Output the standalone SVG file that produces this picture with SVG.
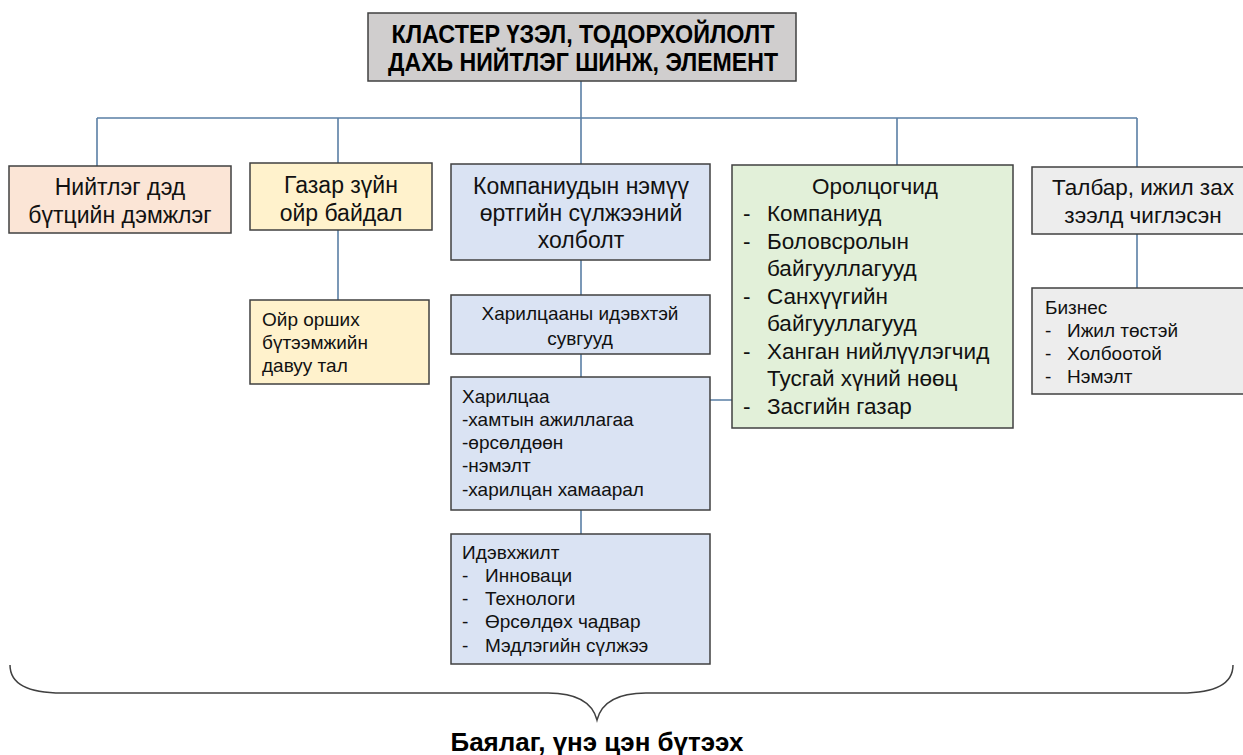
<svg xmlns="http://www.w3.org/2000/svg" width="1243" height="755" viewBox="0 0 1243 755">
<style>
.box{stroke:#404040;stroke-width:1.5}
.t{font-family:"Liberation Sans",Arial,sans-serif;font-size:23px;fill:#111}
.g{font-family:"Liberation Sans",Arial,sans-serif;font-size:22.5px;fill:#111}
.s{font-family:"Liberation Sans",Arial,sans-serif;font-size:19px;fill:#111}
.b{font-family:"Liberation Sans",Arial,sans-serif;font-weight:bold;font-size:25px;fill:#000}
.c{text-anchor:middle}
.con{stroke:#5A7FA5;stroke-width:1.6;fill:none}
</style>
<rect width="1243" height="755" fill="#fff"/>
<g id="connectors">
<path class="con" d="M581,81 V118 M97,118 H1137 M97,118 V166 M338,118 V163 M581,118 V164 M897,118 V165 M1137,118 V167"/>
<path class="con" d="M338,230 V300 M581,260 V295 M581,354 V377 M581,510 V534 M710,400 H732 M1137,234 V288"/>
</g>
<g id="title">
<rect class="box" x="368" y="13" width="428" height="68" fill="#D0CECE"/>
<text class="b c" x="583" y="43" textLength="383" lengthAdjust="spacingAndGlyphs">КЛАСТЕР ҮЗЭЛ, ТОДОРХОЙЛОЛТ</text>
<text class="b c" x="583" y="71" textLength="390" lengthAdjust="spacingAndGlyphs">ДАХЬ НИЙТЛЭГ ШИНЖ, ЭЛЕМЕНТ</text>
</g>
<g id="infra">
<rect class="box" x="9" y="166" width="222" height="67" fill="#FBE5D6"/>
<text class="t c" x="120" y="195">Нийтлэг дэд</text>
<text class="t c" x="120" y="223">бүтцийн дэмжлэг</text>
</g>
<g id="geo">
<rect class="box" x="250" y="163" width="182" height="67" fill="#FFF2CC"/>
<text class="t c" x="341" y="193">Газар зүйн</text>
<text class="t c" x="341" y="221">ойр байдал</text>
</g>
<g id="geo-adv">
<rect class="box" x="250" y="300" width="179" height="84" fill="#FFF2CC"/>
<text class="s" x="262" y="326">Ойр орших</text>
<text class="s" x="262" y="349">бүтээмжийн</text>
<text class="s" x="262" y="372">давуу тал</text>
</g>
<g id="value-chain">
<rect class="box" x="451" y="164" width="259" height="96" fill="#DAE3F3"/>
<text class="t c" x="581" y="194">Компаниудын нэмүү</text>
<text class="t c" x="581" y="221">өртгийн сүлжээний</text>
<text class="t c" x="581" y="248">холболт</text>
</g>
<g id="channels">
<rect class="box" x="451" y="295" width="259" height="59" fill="#DAE3F3"/>
<text class="s c" x="580" y="320">Харилцааны идэвхтэй</text>
<text class="s c" x="580" y="345">сувгууд</text>
</g>
<g id="relations">
<rect class="box" x="451" y="377" width="259" height="133" fill="#DAE3F3"/>
<text class="s" x="462" y="403">Харилцаа</text>
<text class="s" x="462" y="426">-хамтын ажиллагаа</text>
<text class="s" x="462" y="449">-өрсөлдөөн</text>
<text class="s" x="462" y="472">-нэмэлт</text>
<text class="s" x="462" y="496">-харилцан хамаарал</text>
</g>
<g id="activity">
<rect class="box" x="451" y="534" width="259" height="130" fill="#DAE3F3"/>
<text class="s" x="462" y="559">Идэвхжилт</text>
<text class="s" x="462" y="582">-</text><text class="s" x="485" y="582">Инноваци</text>
<text class="s" x="462" y="605">-</text><text class="s" x="485" y="605">Технологи</text>
<text class="s" x="462" y="628">-</text><text class="s" x="485" y="628">Өрсөлдөх чадвар</text>
<text class="s" x="462" y="652">-</text><text class="s" x="485" y="652">Мэдлэгийн сүлжээ</text>
</g>
<g id="participants">
<rect class="box" x="732" y="165" width="281" height="263" fill="#E2F0D9"/>
<text class="g c" x="875" y="194">Оролцогчид</text>
<text class="g" x="743" y="221">-</text><text class="g" x="767" y="221">Компаниуд</text>
<text class="g" x="743" y="249">-</text><text class="g" x="767" y="249">Боловсролын</text>
<text class="g" x="767" y="276">байгууллагууд</text>
<text class="g" x="743" y="304">-</text><text class="g" x="767" y="304">Санхүүгийн</text>
<text class="g" x="767" y="331">байгууллагууд</text>
<text class="g" x="743" y="359">-</text><text class="g" x="767" y="359">Ханган нийлүүлэгчид</text>
<text class="g" x="767" y="386">Тусгай хүний нөөц</text>
<text class="g" x="743" y="414">-</text><text class="g" x="767" y="414">Засгийн газар</text>
</g>
<g id="market">
<rect class="box" x="1032" y="167" width="212" height="67" fill="#EDEDED"/>
<text class="g c" x="1143" y="195">Талбар, ижил зах</text>
<text class="g c" x="1143" y="223">зээлд чиглэсэн</text>
</g>
<g id="business">
<rect class="box" x="1032" y="288" width="212" height="106" fill="#EDEDED"/>
<text class="s" x="1045" y="314">Бизнес</text>
<text class="s" x="1045" y="337">-</text><text class="s" x="1067" y="337">Ижил төстэй</text>
<text class="s" x="1045" y="360">-</text><text class="s" x="1067" y="360">Холбоотой</text>
<text class="s" x="1045" y="383">-</text><text class="s" x="1067" y="383">Нэмэлт</text>
</g>
<g id="brace">
<path d="M10,665 Q10,693 62,693 L548,693 Q590,693 597,720 Q604,693 646,693 L1181,693 Q1233,693 1233,665" fill="none" stroke="#404040" stroke-width="1.5"/>
<text class="b c" x="597" y="751" font-size="23" textLength="293" lengthAdjust="spacingAndGlyphs">Баялаг, үнэ цэн бүтээх</text>
</g>
</svg>
